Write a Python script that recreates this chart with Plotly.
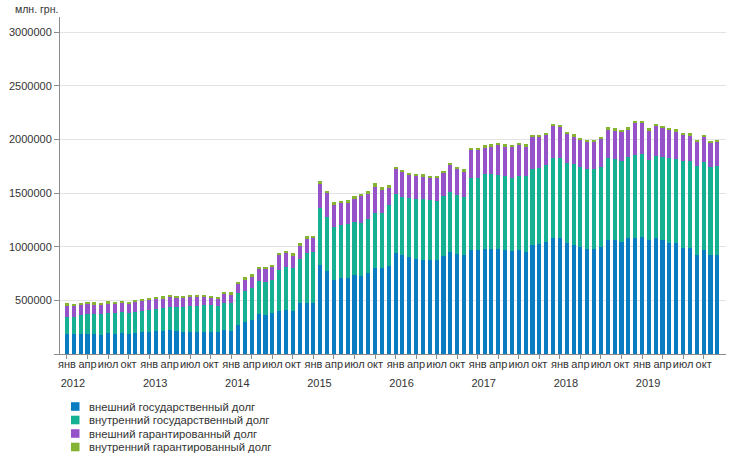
import plotly.graph_objects as go

# ---------------- data (млн. грн., monthly, Jan 2012 – Dec 2019) ----------------
years = [2012, 2013, 2014, 2015, 2016, 2017, 2018, 2019]
quarter_months = ["янв", "апр", "июл", "окт"]
series_names = [
    "внешний государственный долг",
    "внутренний государственный долг",
    "внешний гарантированный долг",
    "внутренний гарантированный долг",
]

ext_state = [
    186200, 186200, 186200, 186200, 186200, 180000, 192400, 189300, 195500, 189300, 195500, 204800,
    204800, 211000, 214100, 223400, 214100, 207900, 207900, 207900, 207900, 207900, 207900, 223400,
    215000, 270000, 301000, 319600, 369300, 366200, 378600, 403400, 412800, 403400, 471700, 477900,
    477900, 831700, 769700, 692100, 710700, 710700, 738600, 729300, 757200, 803800, 797600, 822500,
    943500, 921700, 906200, 887600, 880000, 875200, 875200, 915600, 952800, 931100, 924900, 971400,
    971400, 977600, 977600, 977600, 971400, 962100, 968300, 949700, 1018000, 1024200, 1042800, 1083200,
    1083200, 1033500, 1014900, 999400, 977600, 977600, 999400, 1061400, 1061400, 1045900, 1083200, 1083200,
    1092500, 1061400, 1080100, 1061400, 1033500, 1033500, 990100, 990100, 921800, 971400, 921800, 921800,
]
int_state = [
    161400, 161400, 173800, 186200, 183100, 189300, 192400, 189300, 192400, 189300, 198600, 198600,
    201800, 208000, 211100, 217300, 226600, 229700, 235900, 235900, 245200, 248300, 239000, 254500,
    264000, 294800, 285500, 298000, 307200, 301000, 310400, 378700, 394100, 400400, 415900, 465600,
    474900, 530800, 502800, 487200, 487300, 499700, 493500, 493500, 496700, 505900, 512100, 561700,
    546200, 540100, 549400, 555600, 560000, 558700, 546300, 555500, 552500, 549300, 533800, 670400,
    670400, 695300, 701500, 692200, 686000, 679700, 692200, 710800, 704500, 710700, 713900, 744900,
    744900, 744900, 751600, 738700, 744900, 744900, 741800, 763600, 751200, 751100, 748000, 766600,
    769700, 744900, 760400, 769800, 791500, 779100, 803800, 803800, 831800, 816300, 816300, 828700,
]
ext_guar = [
    102400, 99300, 99300, 96200, 93100, 90000, 90000, 90000, 90000, 90000, 86900, 93100,
    96200, 96200, 93100, 86900, 80700, 83800, 83800, 83800, 74500, 68300, 68300, 77600,
    74000, 86900, 102500, 102400, 114900, 124200, 117900, 136500, 130400, 108600, 118000, 130300,
    124100, 220300, 226500, 211100, 204800, 198600, 214200, 245200, 235800, 248300, 217300, 164500,
    232800, 229700, 214100, 217200, 217000, 207900, 217200, 214200, 254500, 239000, 242100, 260800,
    260800, 251400, 257600, 279300, 279300, 288700, 288600, 273100, 301100, 288700, 285500, 294800,
    285500, 270000, 264300, 257600, 248300, 254500, 260700, 270000, 273100, 273200, 263800, 301100,
    288700, 279400, 282400, 273100, 257600, 260700, 248300, 245200, 223400, 235900, 229600, 226500,
]
int_guar = [
    21700, 21700, 18600, 18600, 18600, 18600, 18600, 18600, 18600, 15500, 18600, 15600,
    18600, 18600, 18600, 18600, 18600, 18600, 18600, 18600, 18600, 18600, 18600, 18600,
    21000, 21800, 24800, 21700, 21700, 21700, 24800, 24900, 24800, 24900, 24800, 24900,
    24900, 24900, 21800, 21700, 21800, 24900, 24800, 24800, 24900, 31000, 27900, 21700,
    21700, 18600, 18700, 18600, 18000, 15600, 18700, 18600, 18600, 18700, 18600, 18600,
    18600, 18600, 18600, 18600, 18600, 18600, 18600, 18600, 18600, 18600, 18600, 18600,
    18600, 18700, 17100, 18600, 18700, 18700, 21700, 18600, 18600, 18600, 18600, 18600,
    18600, 18600, 18600, 18600, 18600, 18600, 18600, 18600, 18700, 18600, 18700, 18700,
]
y_ticks = [0, 500000, 1000000, 1500000, 2000000, 2500000, 3000000]

# ---------------- styling ----------------
colors = ["#0a7cc1", "#16b192", "#9552c9", "#85b432"]
font_family = "Liberation Sans, Arial, sans-serif"
text_color = "#333333"
axis_color = "#8c8c8c"
grid_color = "#e3e3e3"

W, H = 740, 462
ML, MR, MT, MB = 60, 14, 17, 108
PW, PH = W - ML - MR, H - MT - MB


def px_x(px):
    """page pixel -> paper x"""
    return (px - ML) / PW


def px_y(py):
    """page pixel -> paper y"""
    return (H - MB - py) / PH


n = len(ext_state)
x_idx = list(range(n))

fig = go.Figure()
for name, vals, col in zip(series_names, [ext_state, int_state, ext_guar, int_guar], colors):
    fig.add_trace(go.Bar(
        x=x_idx, y=vals, name=name, marker=dict(color=col, line=dict(width=0)),
        showlegend=False,
    ))

# dummy trace so the year-label axis is rendered
fig.add_trace(go.Scatter(x=[None], y=[None], xaxis="x2", showlegend=False, hoverinfo="skip"))

month_ticks = list(range(0, n, 3))
month_text = [quarter_months[(i // 3) % 4] for i in month_ticks]
year_ticks = list(range(0, n, 12))
year_text = [str(y) for y in years]

xrange = [-1.02, n + 0.27]

fig.update_layout(
    width=W, height=H,
    margin=dict(l=ML, r=MR, t=MT, b=MB, autoexpand=False),
    paper_bgcolor="white", plot_bgcolor="white",
    barmode="stack", bargap=0.4,
    font=dict(family=font_family, size=11, color=text_color),
    xaxis=dict(
        range=xrange, tickmode="array", tickvals=month_ticks, ticktext=month_text,
        ticks="outside", ticklen=4, tickcolor=axis_color, tickwidth=1, tickangle=0,
        showline=True, linecolor=axis_color, linewidth=1, automargin=False,
        showgrid=False, zeroline=False, ticklabelstandoff=-4,
        tickfont=dict(size=11, color=text_color),
    ),
    xaxis2=dict(
        overlaying="x", side="bottom", range=xrange, tickmode="array",
        tickvals=year_ticks, ticktext=year_text, ticks="", showline=False, tickangle=0,
        showgrid=False, zeroline=False, ticklabelstandoff=21, ticklabelshift=6,
        automargin=False,
        tickfont=dict(size=11, color=text_color),
    ),
    yaxis=dict(
        range=[0, 3140000], tickmode="array", tickvals=y_ticks,
        ticktext=["" if v == 0 else str(v) for v in y_ticks],
        ticks="outside", ticklen=5, tickcolor=axis_color, automargin=False,
        showline=True, linecolor=axis_color, linewidth=1,
        showgrid=True, gridcolor=grid_color, gridwidth=1, zeroline=False,
        tickfont=dict(size=11, color=text_color),
    ),
)

fig.add_annotation(
    text="млн. грн.", xref="paper", yref="paper", x=px_x(13), y=px_y(9.5),
    xanchor="left", yanchor="middle", showarrow=False,
    font=dict(size=10.5, color=text_color),
)

# custom vertical legend
legend_rows = [406.5, 420, 433.5, 447]
for name, col, py in zip(series_names, colors, legend_rows):
    fig.add_shape(
        type="rect", xref="paper", yref="paper",
        x0=px_x(71), x1=px_x(79.5), y0=px_y(py + 4.3), y1=px_y(py - 4.3),
        fillcolor=col, line=dict(width=0),
    )
    fig.add_annotation(
        text=name, xref="paper", yref="paper", x=px_x(87), y=px_y(py),
        xanchor="left", yanchor="middle", showarrow=False,
        font=dict(size=11.3, color=text_color),
    )

# remove the browser's default 8px body margin so the figure sits at (0, 0)
fig.write_html(
    "out.html",
    config={"displayModeBar": False},
    post_script="document.body.style.margin='0'; document.body.style.overflow='hidden';",
)
